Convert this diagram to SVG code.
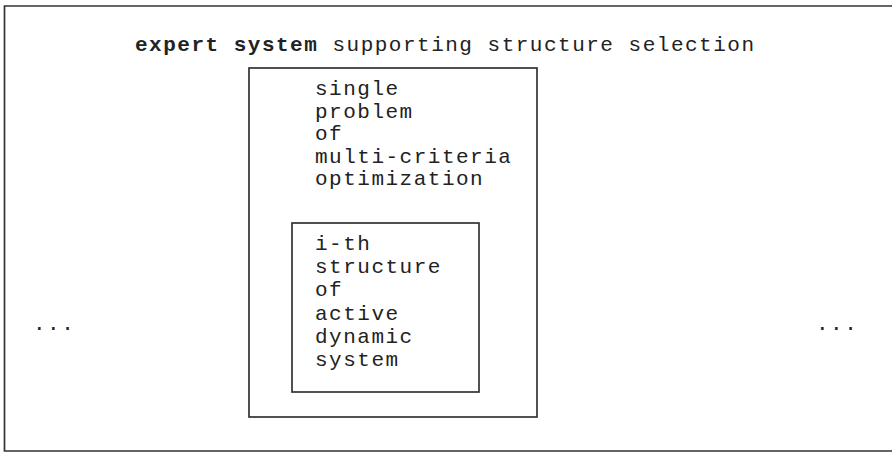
<svg xmlns="http://www.w3.org/2000/svg" width="892" height="453" viewBox="0 0 892 453">
  <style>
    .frame { fill: none; stroke: #333333; stroke-width: 1.7; }
    .lbl { font-family: "Liberation Mono", "Courier New", monospace; font-size: 21px; letter-spacing: 1.5px; fill: #222; }
    .bold { font-weight: bold; }
  </style>
  <rect width="892" height="453" fill="#ffffff"/>

  <!-- outer frame: expert system -->
  <g id="expert-system">
    <path class="frame" d="M 894 6 L 4.5 6 L 4.5 451 L 894 451"/>
    <text class="lbl" x="135" y="51"><tspan class="bold">expert system</tspan> supporting structure selection</text>
    <text class="lbl" x="33" y="330">...</text>
    <text class="lbl" x="816" y="330">...</text>
  </g>

  <!-- middle frame: single multi-criteria problem -->
  <g id="mco-problem">
    <rect class="frame" x="249" y="68" width="288" height="349"/>
    <text class="lbl" x="315" y="95">
      <tspan x="315" dy="0">single</tspan>
      <tspan x="315" dy="22.5">problem</tspan>
      <tspan x="315" dy="22.5">of</tspan>
      <tspan x="315" dy="22.5">multi-criteria</tspan>
      <tspan x="315" dy="22.5">optimization</tspan>
    </text>
  </g>

  <!-- inner frame: i-th structure -->
  <g id="ith-structure">
    <rect class="frame" x="292" y="223" width="187" height="169"/>
    <text class="lbl" x="315" y="250">
      <tspan x="315" dy="0">i-th</tspan>
      <tspan x="315" dy="23.2">structure</tspan>
      <tspan x="315" dy="23.2">of</tspan>
      <tspan x="315" dy="23.2">active</tspan>
      <tspan x="315" dy="23.2">dynamic</tspan>
      <tspan x="315" dy="23.2">system</tspan>
    </text>
  </g>

  <g id="connectors"/>
</svg>
